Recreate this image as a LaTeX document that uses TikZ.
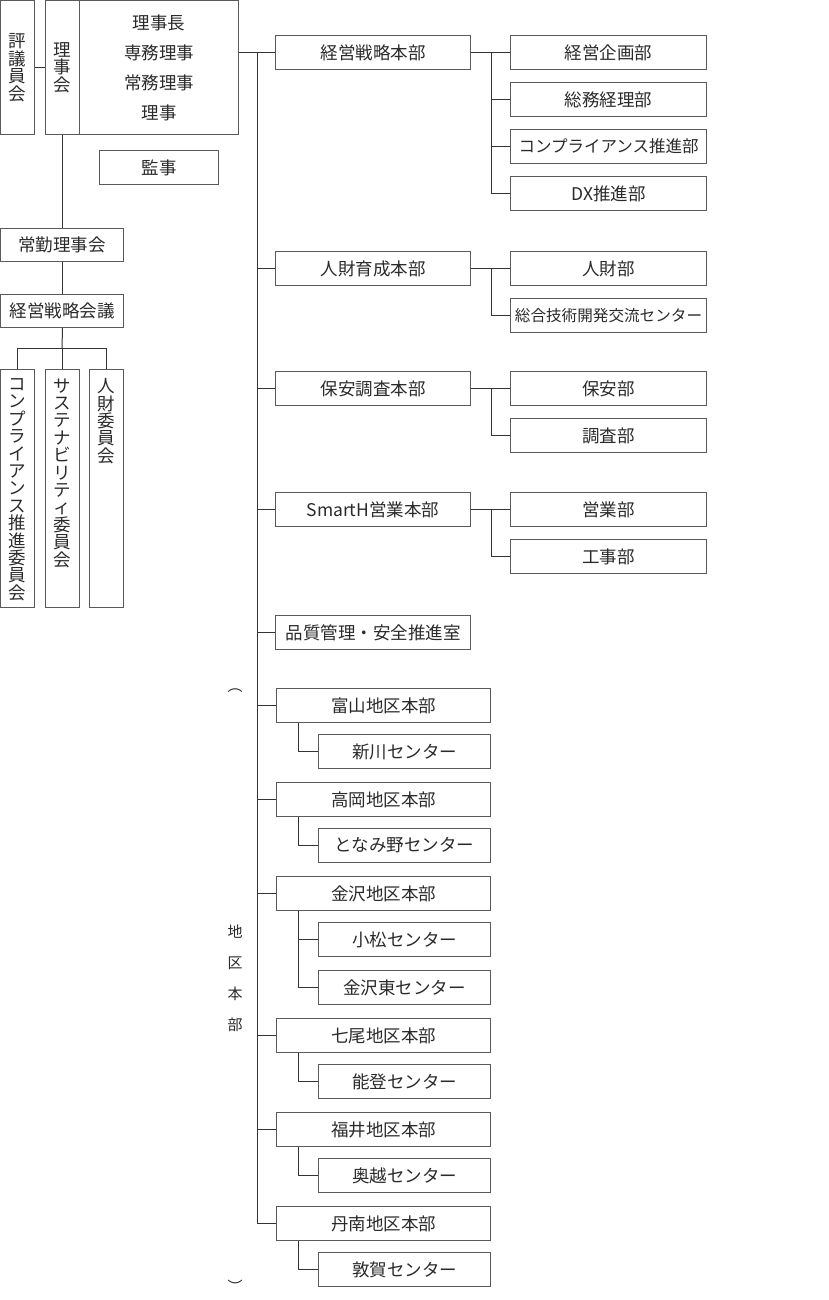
\documentclass[tikz,border=0pt]{standalone}
\usepackage{fontspec}
\setmainfont{Noto Sans CJK JP}
\definecolor{txt}{HTML}{2A2A2A}
\definecolor{bx}{HTML}{5A5A5A}
\definecolor{cn}{HTML}{333333}
\begin{document}
\begin{tikzpicture}[x=1pt,y=-1pt,
  every node/.style={font=\fontsize{17.5}{17.5}\selectfont, text=txt},
  box/.style={draw=bx, line width=1pt, inner sep=0pt, anchor=north west, align=center},
  hb/.style={box, minimum height=34pt},
  conn/.style={draw=cn, line width=1pt},
  vlab/.style={inner sep=0pt, align=center, font=\fontsize{15}{31}\selectfont}]
\useasboundingbox (0,0) rectangle (828,1300);
% left column
\node[box, minimum width=34pt, minimum height=134pt] (hyogi) at (0,0) {評\\議\\員\\会};
\node[box, minimum width=34pt, minimum height=134pt] (rijikai) at (45,0) {理\\事\\会};
\node[box, minimum width=159pt, minimum height=134pt, font=\fontsize{17.5}{30}\selectfont] (yakuin) at (79,0) {理事長\\専務理事\\常務理事\\理事};
\node[box, minimum width=119pt, minimum height=34pt] (kanji) at (99,150) {監事};
\node[box, minimum width=123pt, minimum height=33pt] (joukin) at (0,228) {常勤理事会};
\node[box, minimum width=123pt, minimum height=33pt] (kaigi) at (0,294) {経営戦略会議};
\node[box, minimum width=34pt] (c1) at (0,369) {\parbox[c][238pt][t]{34pt}{\centering\fontsize{17.5}{17.4}\selectfont\vspace*{9pt}コ\\ン\\プ\\ラ\\イ\\ア\\ン\\ス\\推\\進\\委\\員\\会}};
\node[box, minimum width=34pt] (c2) at (45,369) {\parbox[c][238pt][t]{34pt}{\centering\fontsize{17.5}{17.4}\selectfont\vspace*{9pt}サ\\ス\\テ\\ナ\\ビ\\リ\\テ\\ィ\\委\\員\\会}};
\node[box, minimum width=34pt] (c3) at (89,369) {\parbox[c][238pt][t]{34pt}{\centering\fontsize{17.5}{17.4}\selectfont\vspace*{9pt}人\\財\\委\\員\\会}};
\coordinate (cb) at (62,348);
\draw[conn] (hyogi.east) -- (rijikai.west);
\draw[conn] (rijikai.south) -- (rijikai.south |- joukin.north);
\draw[conn] (rijikai.south |- joukin.south) -- (rijikai.south |- kaigi.north);
\draw[conn] (rijikai.south |- kaigi.south) -- (cb);
\draw[conn] (c1.north) -- (c1.north |- cb) -- (c3.north |- cb) -- (c3.north);
\draw[conn] (c2.north |- cb) -- (c2.north);
% main branches
\node[hb, minimum width=195pt] (keiei) at (275,35) {経営戦略本部};
\node[hb, minimum width=195pt] (jinzai) at (275,251) {人財育成本部};
\node[hb, minimum width=195pt] (hoan) at (275,371) {保安調査本部};
\node[hb, minimum width=195pt] (smart) at (275,492) {SmartH営業本部};
\node[hb, minimum width=195pt] (hinshitsu) at (275,615) {品質管理・安全推進室};
% departments
\node[hb, minimum width=196pt] (kikaku) at (510,35) {経営企画部};
\node[hb, minimum width=196pt] (soumu) at (510,82) {総務経理部};
\node[hb, minimum width=196pt, font=\fontsize{16.5}{16.5}\selectfont] (comp) at (510,129) {コンプライアンス推進部};
\node[hb, minimum width=196pt] (dx) at (510,176) {DX推進部};
\node[hb, minimum width=196pt] (jinzaibu) at (510,251) {人財部};
\node[hb, minimum width=196pt, font=\fontsize{15.6}{15.6}\selectfont] (sougou) at (510,298) {総合技術開発交流センター};
\node[hb, minimum width=196pt] (hoanbu) at (510,371) {保安部};
\node[hb, minimum width=196pt] (chousa) at (510,418) {調査部};
\node[hb, minimum width=196pt] (eigyo) at (510,492) {営業部};
\node[hb, minimum width=196pt] (kouji) at (510,539) {工事部};
% regional
\node[hb, minimum width=214pt] (toyama) at (276,688) {富山地区本部};
\node[hb, minimum width=172pt] (shinkawa) at (318,734) {新川センター};
\node[hb, minimum width=214pt] (takaoka) at (276,782) {高岡地区本部};
\node[hb, minimum width=172pt] (tonami) at (318,828) {となみ野センター};
\node[hb, minimum width=214pt] (kanazawa) at (276,876) {金沢地区本部};
\node[hb, minimum width=172pt] (komatsu) at (318,922) {小松センター};
\node[hb, minimum width=172pt] (kanahigashi) at (318,970) {金沢東センター};
\node[hb, minimum width=214pt] (nanao) at (276,1018) {七尾地区本部};
\node[hb, minimum width=172pt] (noto) at (318,1064) {能登センター};
\node[hb, minimum width=214pt] (fukui) at (276,1112) {福井地区本部};
\node[hb, minimum width=172pt] (okuetsu) at (318,1158) {奥越センター};
\node[hb, minimum width=214pt] (tannan) at (276,1206) {丹南地区本部};
\node[hb, minimum width=172pt] (tsuruga) at (318,1252) {敦賀センター};
% label
\node[vlab] (chiku) at (235,978) {地\\区\\本\\部};
\node[inner sep=0pt, font=\fontsize{15}{15}\selectfont] (lpar) at (235,691) {︵};
\node[inner sep=0pt, font=\fontsize{15}{15}\selectfont] (rpar) at (235,1286) {︶};
% trunk
\coordinate (tk) at (257,52);
\draw[conn] (yakuin.east |- keiei.west) -- (keiei.west);
\draw[conn] (tk) -- (tk |- tannan.west);
\foreach \n in {jinzai,hoan,smart,hinshitsu,toyama,takaoka,kanazawa,nanao,fukui,tannan}
  \draw[conn] (tk |- \n.west) -- (\n.west);
% department connectors
\path (keiei.east) -- (kikaku.west) coordinate[pos=.52] (k1);
\draw[conn] (keiei.east) -- (kikaku.west);
\draw[conn] (k1) |- (dx.west);
\draw[conn] (k1 |- soumu.west) -- (soumu.west);
\draw[conn] (k1 |- comp.west) -- (comp.west);
\draw[conn] (jinzai.east) -- (jinzaibu.west);
\draw[conn] (k1 |- jinzai.east) |- (sougou.west);
\draw[conn] (hoan.east) -- (hoanbu.west);
\draw[conn] (k1 |- hoan.east) |- (chousa.west);
\draw[conn] (smart.east) -- (eigyo.west);
\draw[conn] (k1 |- smart.east) |- (kouji.west);
% center connectors
\draw[conn] ([xshift=22pt]toyama.south west) |- (shinkawa.west);
\draw[conn] ([xshift=22pt]takaoka.south west) |- (tonami.west);
\draw[conn] ([xshift=22pt]kanazawa.south west) |- (kanahigashi.west);
\draw[conn] ([xshift=22pt]kanazawa.south west |- komatsu.west) -- (komatsu.west);
\draw[conn] ([xshift=22pt]nanao.south west) |- (noto.west);
\draw[conn] ([xshift=22pt]fukui.south west) |- (okuetsu.west);
\draw[conn] ([xshift=22pt]tannan.south west) |- (tsuruga.west);
\end{tikzpicture}
\end{document}
